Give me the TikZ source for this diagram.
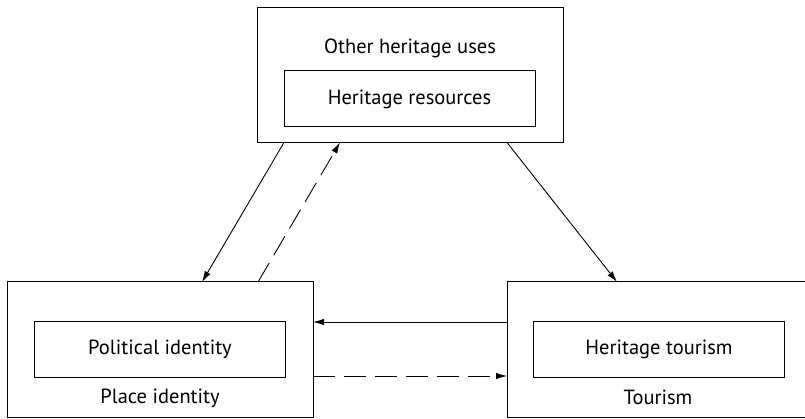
\documentclass[tikz,border=0pt]{standalone}
\usepackage{fontspec}
\setmainfont{PT Sans}
\usetikzlibrary{arrows.meta}
\begin{document}
\begin{tikzpicture}[x=1pt,y=-1pt,
  outerbox/.style={draw,line width=1pt,minimum width=306pt,minimum height=135pt,inner sep=0pt,outer sep=0pt},
  innerbox/.style={draw,line width=1pt,minimum width=251pt,minimum height=56pt,inner sep=0pt,outer sep=0pt,font=\fontsize{20.5}{24}\selectfont},
  lbl/.style={inner sep=0pt,font=\fontsize{20.5}{24}\selectfont},
  conn/.style={line width=0.9pt,-{Latex[length=11pt,width=6.5pt]}},
  dconn/.style={conn,dash pattern=on 22pt off 9pt}]
\useasboundingbox (0,0) rectangle (805,419);
\fill[white] (0,0) rectangle (805,419);
\node[outerbox] (top) at (410,75) {};
\node[innerbox] (res) at (409.5,99) {Heritage resources};
\node[lbl] (other) at (410,48) {Other heritage uses};
\node[outerbox] (left) at (160,349.5) {};
\node[innerbox] (pol) at (160,349) {Political identity};
\node[lbl] (place) at (160,398) {Place identity};
\node[outerbox] (right) at (660,349.5) {};
\node[innerbox] (ht) at (659,349.5) {Heritage tourism};
\node[lbl] (tour) at (658,397) {Tourism};
\draw[conn] ([xshift=27pt]top.south west) -- ([xshift=195pt]left.north west);
\draw[dconn] ([xshift=251pt]left.north west) -- ([xshift=83pt]top.south west);
\draw[conn] ([xshift=250pt]top.south west) -- ([xshift=110pt]right.north west);
\draw[conn] ([yshift=-40pt]right.north west) -- ([yshift=-40pt]left.north east);
\draw[dconn] ([yshift=-94pt]left.north east) -- ([yshift=-94pt]right.north west);
\end{tikzpicture}
\end{document}
